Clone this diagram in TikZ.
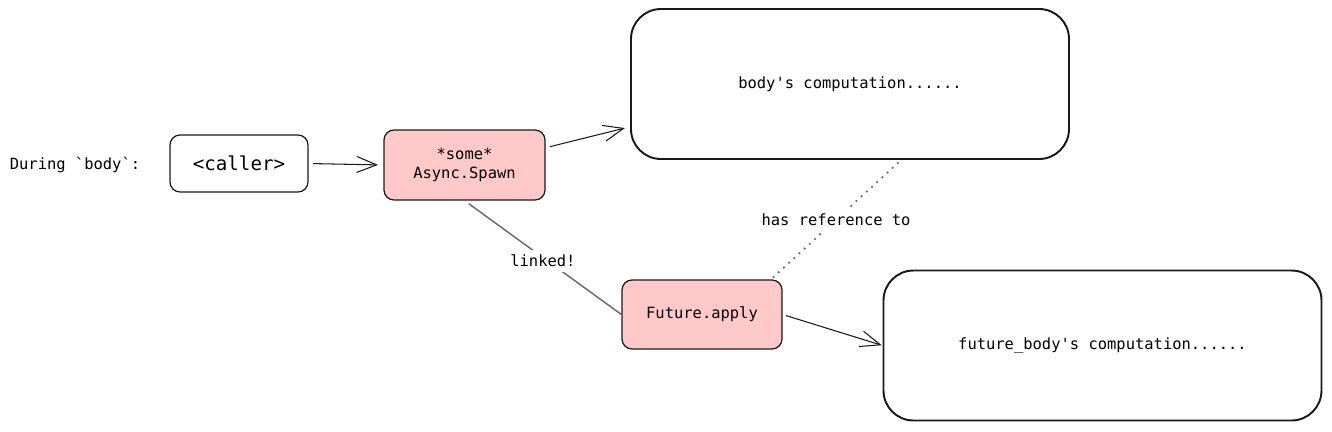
\documentclass[tikz,border=0pt]{standalone}
\usepackage{xcolor}
\usepackage{fontspec}
\setmonofont{DejaVu Sans Mono}
\usepackage{tikz}
\usetikzlibrary{shapes.geometric, arrows.meta, positioning}
\definecolor{pinkfill}{HTML}{FFC9C9}
\definecolor{linkgray}{HTML}{666666}
\tikzstyle{txt} = [font=\ttfamily\fontsize{8.8}{10.5}\selectfont, inner sep=1pt]
\tikzstyle{smallbox} = [rectangle, draw=black!90, line width=0.7pt, rounded corners=0.2cm, align=center, txt]
\tikzstyle{bigbox} = [rectangle, draw=black!90, line width=1.1pt, rounded corners=0.6cm, minimum width=8.76cm, minimum height=3cm, txt]
\tikzstyle{arrow} = [-{Straight Barb[length=4mm, width=3.2mm]}, line width=0.6pt, black!90]

\begin{document}
\begin{tikzpicture}[node distance=1cm]
                \useasboundingbox (0,0) rectangle (26.64,-8.62);
                \node[txt] (during) at (1.5,-3.30) {During `body`:};
                \node[smallbox, minimum width=2.76cm, minimum height=1.14cm, font=\ttfamily\fontsize{10.9}{13}\selectfont] (caller) at (4.78,-3.27) {<caller>};
                \node[smallbox, fill=pinkfill, minimum width=3.22cm, minimum height=1.4cm] (spawn) at (9.29,-3.30) {*some*\\Async.Spawn};
                \node[bigbox] (body) at (17.0,-1.68) {body's computation......};
                \node[smallbox, fill=pinkfill, minimum width=3.2cm, minimum height=1.38cm] (future) at (14.04,-6.29) {Future.apply};
                \node[bigbox] (fbody) at (22.05,-6.91) {future\_body's computation......};
                % connectors
                \draw[arrow, shorten <=2.5pt, shorten >=3pt] (caller.east) -- (spawn.west);
                \draw[arrow, shorten <=2.5pt, shorten >=3pt] (spawn.12) -- (body.191);
                \draw[arrow, shorten <=2pt, shorten >=0.5pt] (future.east) -- (fbody.west);
                \draw[linkgray, line width=0.8pt, shorten <=3pt] (spawn.south) -- node[midway, fill=white, txt, text=black, inner sep=3pt, yshift=-2pt] {linked!} (future.west);
                \draw[linkgray, line width=1.4pt, line cap=round, dash pattern=on 0pt off 4pt, shorten <=2pt, shorten >=2pt] (future.27) -- node[midway, fill=white, txt, text=black, inner sep=3pt] {has reference to} (body.-56);
            \end{tikzpicture}
\end{document}
